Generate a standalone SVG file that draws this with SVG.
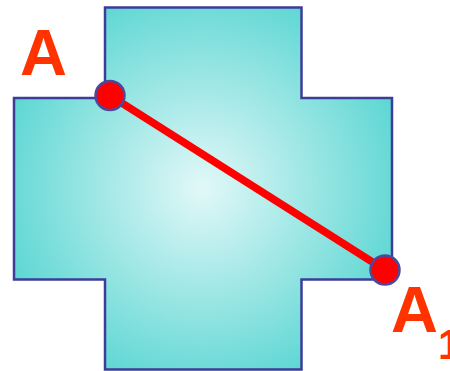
<svg xmlns="http://www.w3.org/2000/svg" width="450" height="371" viewBox="0 0 450 371">
<defs>
<radialGradient id="g" gradientUnits="userSpaceOnUse" cx="202" cy="188" r="230">
<stop offset="0" stop-color="#e2f8f8"/>
<stop offset="1" stop-color="#4fd3cf"/>
</radialGradient>
<style>
.lbl{font-family:"Liberation Sans",Arial,sans-serif;font-weight:bold;fill:#ff3300}
.pt{fill:#ff0000;stroke:#4a4a9c;stroke-width:2.5}
</style>
</defs>
<g id="cross">
<path d="M105,7.5 H301.5 V98 H392 V279.5 H301.5 V369.5 H105 V279.5 H14 V98 H105 Z" fill="url(#g)" stroke="#3d3d99" stroke-width="2.5"/>
</g>
<g id="connectors">
<line x1="110" y1="95.5" x2="385" y2="270" stroke="#ff0000" stroke-width="7.5"/>
</g>
<g id="pointA">
<circle class="pt" cx="110" cy="95.5" r="14.5"/>
<text class="lbl" x="20" y="75" font-size="65">A</text>
</g>
<g id="pointA1">
<circle class="pt" cx="385" cy="270" r="14.5"/>
<text class="lbl" x="391" y="332" font-size="65">A<tspan font-size="42" dy="27">1</tspan></text>
</g>
</svg>
